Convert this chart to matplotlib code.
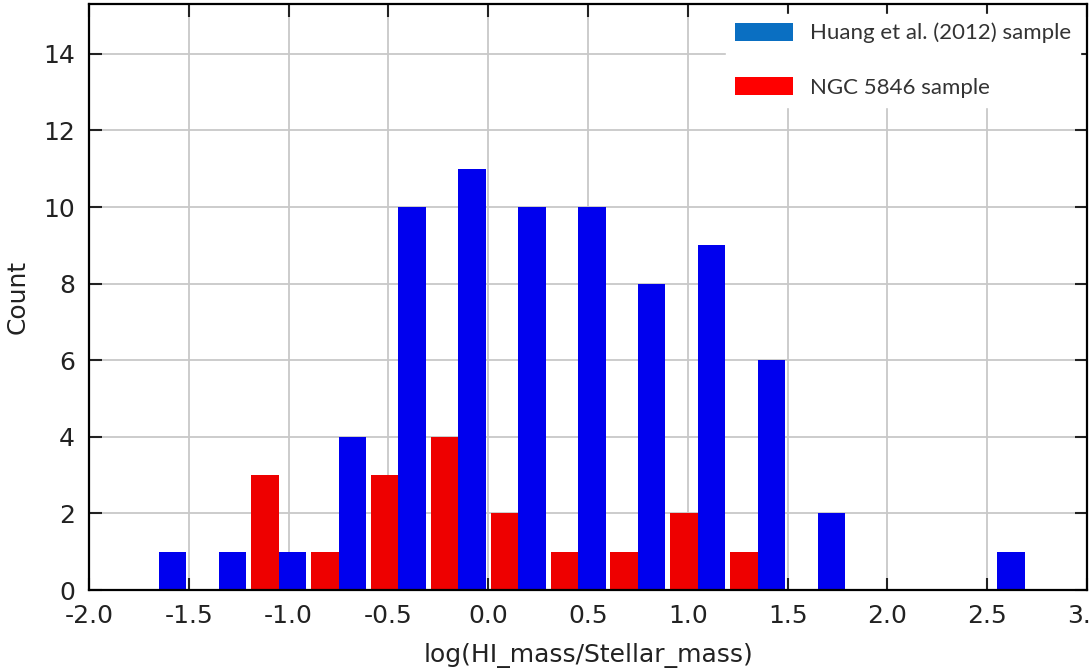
import matplotlib
matplotlib.use("Agg")
import matplotlib.pyplot as plt
from matplotlib.patches import Patch
import numpy as np

# histogram bins (left edges), width 0.3
bin_left = [-1.8, -1.5, -1.2, -0.9, -0.6, -0.3, 0.0, 0.3, 0.6, 0.9, 1.2, 1.5, 1.8, 2.1, 2.4, 2.7]
bin_width = 0.3

ngc_counts = [0, 0, 3, 1, 3, 4, 2, 1, 1, 2, 1, 0, 0, 0, 0, 0]
huang_counts = [1, 1, 1, 4, 10, 11, 10, 10, 8, 9, 6, 2, 0, 0, 1, 0]

xticks = [-2.0, -1.5, -1.0, -0.5, 0.0, 0.5, 1.0, 1.5, 2.0, 2.5, 3.0]
yticks = [0, 2, 4, 6, 8, 10, 12, 14]


def plot_hist():
    fig = plt.figure(figsize=(10.92, 6.72), dpi=100)
    ax = fig.add_axes([0.0815, 0.122, 0.914, 0.872])

    left = np.array(bin_left)
    gap = bin_width * 0.04
    bw = (bin_width - 2 * gap) / 2
    ax.bar(left + gap, ngc_counts, width=bw, align='edge', color='#ee0000', zorder=3)
    ax.bar(left + gap + bw, huang_counts, width=bw, align='edge', color='#0000ee', zorder=3)

    ax.set_xlim(-2.0, 3.0)
    ax.set_ylim(0, 15.3)
    ax.set_xticks(xticks)
    ax.set_xticklabels(['%.1f' % t for t in xticks])
    ax.set_yticks(yticks)

    ax.grid(True, color='#c8c8c8', linewidth=1.3, zorder=0)
    ax.set_axisbelow(True)
    ax.tick_params(direction='in', length=9, width=1.5, top=True, right=True,
                   labelsize=18, pad=10, colors='#222222')
    for sp in ax.spines.values():
        sp.set_linewidth(1.6)
        sp.set_zorder(5)

    ax.set_xlabel('log(HI_mass/Stellar_mass)', fontsize=18, color='#222222', labelpad=11)
    ax.set_ylabel('Count', fontsize=18, color='#222222', labelpad=10)

    handles = [Patch(facecolor='#0a6fc2'), Patch(facecolor='#ff0000')]
    leg = ax.legend(handles, ['Huang et al. (2012) sample', 'NGC 5846 sample'],
                    loc='upper right', bbox_to_anchor=(1.0, 0.995), frameon=True,
                    fancybox=False, framealpha=1.0, edgecolor='white',
                    prop={'family': 'Lato', 'size': 16},
                    handlelength=2.6, handleheight=0.9, handletextpad=0.8,
                    labelspacing=1.5, borderpad=0.4, borderaxespad=0.3)
    for t in leg.get_texts():
        t.set_color('#333333')
    leg.set_zorder(6)

    fig.savefig('out.png', dpi=100)


if __name__ == '__main__':
    plot_hist()
